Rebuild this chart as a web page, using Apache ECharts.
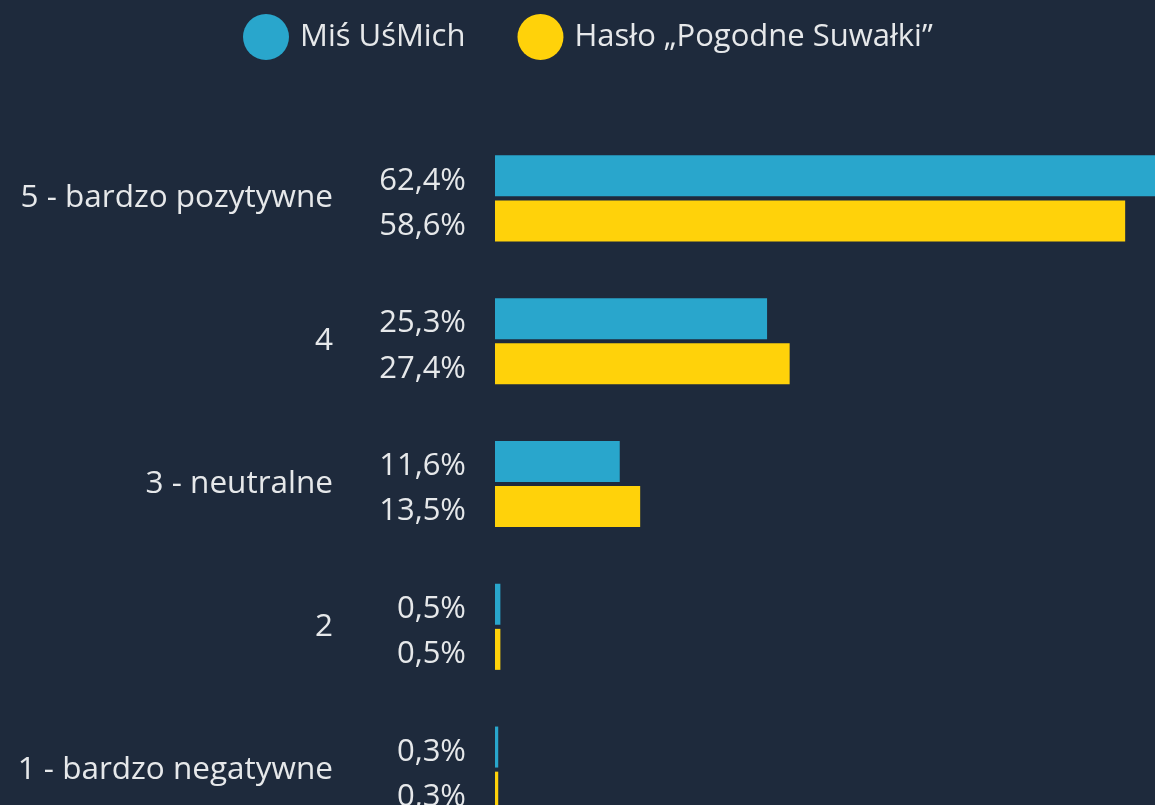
<!DOCTYPE html>
<html>
<head>
<meta charset="utf-8">
<script src="https://cdn.jsdelivr.net/npm/echarts@6/dist/echarts.min.js"></script>
<style>
  html, body { margin: 0; padding: 0; background: #1e2a3c; overflow: hidden; }
  /* wykres wychodzi poza kadr z prawej i z dołu */
  #chart { width: 1194px; height: 841px; }
</style>
</head>
<body>
<div id="chart"></div>
<script>
// dane
var categories = ["5 - bardzo pozytywne", "4", "3 - neutralne", "2", "1 - bardzo negatywne"];
var seriesNames = ["Miś UśMich", "Hasło „Pogodne Suwałki”"];
var misValues = [62.4, 25.3, 11.6, 0.5, 0.3];
var hasloValues = [58.6, 27.4, 13.5, 0.5, 0.3];

var textColor = "#e6e8ea";
var font = "'Open Sans', Roboto, sans-serif";

var chart = echarts.init(document.getElementById("chart"));

function pct(p) {
  return p.value.toFixed(1).replace(".", ",") + "%";
}

var labelStyle = {
  show: true,
  position: "left",
  distance: 29,
  offset: [0, 5],
  color: textColor,
  fontSize: 31,
  fontFamily: font,
  formatter: pct,
};

var option = {
  backgroundColor: "#1e2a3c",
  legend: {
    top: 9,
    left: 238,
    icon: "circle",
    itemWidth: 46,
    itemHeight: 46,
    itemGap: 52,
    textStyle: { color: textColor, fontSize: 31, fontFamily: font, padding: [0, 0, 0, 6] },
    data: seriesNames,
  },
  grid: {
    left: 495,
    right: 0,
    top: 127,
    bottom: 0,
    containLabel: false,
  },
  xAxis: {
    type: "value",
    min: 0,
    max: 65,
    show: false,
    splitLine: { show: false },
  },
  yAxis: {
    type: "category",
    inverse: true,
    data: categories,
    axisLine: { show: false },
    axisTick: { show: false },
    axisLabel: {
      margin: 162,
      color: textColor,
      fontSize: 31.5,
      fontFamily: font,
      padding: [14, 0, 0, 0],
    },
  },
  series: [
    {
      name: seriesNames[0],
      type: "bar",
      data: misValues,
      barWidth: 41,
      barGap: "10%",
      itemStyle: { color: "#29a6cc" },
      label: labelStyle,
      animation: false,
    },
    {
      name: seriesNames[1],
      type: "bar",
      data: hasloValues,
      barWidth: 41,
      itemStyle: { color: "#ffd20a" },
      label: labelStyle,
      animation: false,
    },
  ],
};
chart.setOption(option);
</script>
</body>
</html>
